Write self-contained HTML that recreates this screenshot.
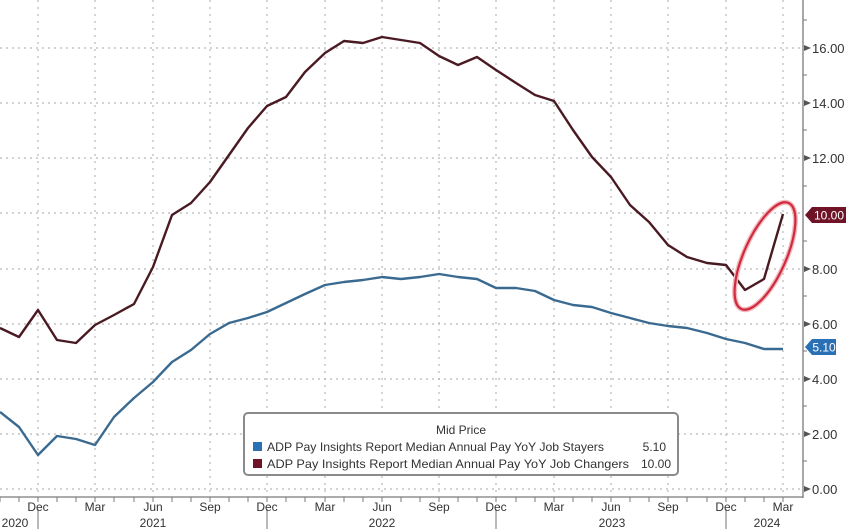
<!DOCTYPE html>
<html>
<head>
<meta charset="utf-8">
<style>
html,body{margin:0;padding:0;background:#fff;}
svg{display:block;}
text{font-family:"Liberation Sans","DejaVu Sans",sans-serif;}
</style>
</head>
<body>
<svg width="848" height="529" viewBox="0 0 848 529" xmlns="http://www.w3.org/2000/svg">
<rect width="848" height="529" fill="#ffffff"/>
<!-- horizontal gridlines -->
<g stroke="#b8b8b8" stroke-width="1.2" stroke-dasharray="2,4">
<line x1="0" y1="489" x2="803" y2="489"/>
<line x1="0" y1="434" x2="803" y2="434"/>
<line x1="0" y1="379" x2="803" y2="379"/>
<line x1="0" y1="324" x2="803" y2="324"/>
<line x1="0" y1="269" x2="803" y2="269"/>
<line x1="0" y1="213" x2="803" y2="213"/>
<line x1="0" y1="158" x2="803" y2="158"/>
<line x1="0" y1="103" x2="803" y2="103"/>
<line x1="0" y1="48" x2="803" y2="48"/>
</g>
<!-- vertical gridlines -->
<g stroke="#b8b8b8" stroke-width="1.2" stroke-dasharray="2,5">
<line x1="38" y1="0" x2="38" y2="497"/>
<line x1="95" y1="0" x2="95" y2="497"/>
<line x1="153" y1="0" x2="153" y2="497"/>
<line x1="210" y1="0" x2="210" y2="497"/>
<line x1="267" y1="0" x2="267" y2="497"/>
<line x1="325" y1="0" x2="325" y2="497"/>
<line x1="382" y1="0" x2="382" y2="497"/>
<line x1="439" y1="0" x2="439" y2="497"/>
<line x1="496" y1="0" x2="496" y2="497"/>
<line x1="554" y1="0" x2="554" y2="497"/>
<line x1="611" y1="0" x2="611" y2="497"/>
<line x1="668" y1="0" x2="668" y2="497"/>
<line x1="726" y1="0" x2="726" y2="497"/>
<line x1="783" y1="0" x2="783" y2="497"/>
</g>
<!-- axes -->
<line x1="803" y1="0" x2="803" y2="498" stroke="#7a7a7a" stroke-width="1.3"/>
<line x1="0" y1="497" x2="803" y2="497" stroke="#7a7a7a" stroke-width="1.3"/>
<!-- x minor ticks -->
<g stroke="#7a7a7a" stroke-width="1">
<line x1="0" y1="497" x2="0" y2="502"/><line x1="19" y1="497" x2="19" y2="502"/>
<line x1="38" y1="497" x2="38" y2="502"/><line x1="57" y1="497" x2="57" y2="502"/>
<line x1="76" y1="497" x2="76" y2="502"/><line x1="95" y1="497" x2="95" y2="502"/>
<line x1="114" y1="497" x2="114" y2="502"/><line x1="134" y1="497" x2="134" y2="502"/>
<line x1="153" y1="497" x2="153" y2="502"/><line x1="172" y1="497" x2="172" y2="502"/>
<line x1="191" y1="497" x2="191" y2="502"/><line x1="210" y1="497" x2="210" y2="502"/>
<line x1="229" y1="497" x2="229" y2="502"/><line x1="248" y1="497" x2="248" y2="502"/>
<line x1="267" y1="497" x2="267" y2="502"/><line x1="286" y1="497" x2="286" y2="502"/>
<line x1="305" y1="497" x2="305" y2="502"/><line x1="325" y1="497" x2="325" y2="502"/>
<line x1="344" y1="497" x2="344" y2="502"/><line x1="363" y1="497" x2="363" y2="502"/>
<line x1="382" y1="497" x2="382" y2="502"/><line x1="401" y1="497" x2="401" y2="502"/>
<line x1="420" y1="497" x2="420" y2="502"/><line x1="439" y1="497" x2="439" y2="502"/>
<line x1="458" y1="497" x2="458" y2="502"/><line x1="477" y1="497" x2="477" y2="502"/>
<line x1="496" y1="497" x2="496" y2="502"/><line x1="516" y1="497" x2="516" y2="502"/>
<line x1="535" y1="497" x2="535" y2="502"/><line x1="554" y1="497" x2="554" y2="502"/>
<line x1="573" y1="497" x2="573" y2="502"/><line x1="592" y1="497" x2="592" y2="502"/>
<line x1="611" y1="497" x2="611" y2="502"/><line x1="630" y1="497" x2="630" y2="502"/>
<line x1="649" y1="497" x2="649" y2="502"/><line x1="668" y1="497" x2="668" y2="502"/>
<line x1="687" y1="497" x2="687" y2="502"/><line x1="707" y1="497" x2="707" y2="502"/>
<line x1="726" y1="497" x2="726" y2="502"/><line x1="745" y1="497" x2="745" y2="502"/>
<line x1="764" y1="497" x2="764" y2="502"/><line x1="783" y1="497" x2="783" y2="502"/>
</g>
<!-- year separators -->
<g stroke="#8a8a8a" stroke-width="1.2">
<line x1="38" y1="509" x2="38" y2="529"/>
<line x1="267" y1="509" x2="267" y2="529"/>
<line x1="496" y1="509" x2="496" y2="529"/>
<line x1="726" y1="509" x2="726" y2="529"/>
</g>
<!-- right axis minor ticks -->
<g stroke="#7a7a7a" stroke-width="1">
<line x1="803" y1="461" x2="807" y2="461"/><line x1="803" y1="406" x2="807" y2="406"/>
<line x1="803" y1="351" x2="807" y2="351"/><line x1="803" y1="296" x2="807" y2="296"/>
<line x1="803" y1="241" x2="807" y2="241"/><line x1="803" y1="186" x2="807" y2="186"/>
<line x1="803" y1="130" x2="807" y2="130"/><line x1="803" y1="75" x2="807" y2="75"/>
<line x1="803" y1="20" x2="807" y2="20"/>
</g>
<!-- right axis major markers -->
<g fill="#555">
<polygon points="804,486 811,489 804,492"/>
<polygon points="804,431 811,434 804,437"/>
<polygon points="804,376 811,379 804,382"/>
<polygon points="804,321 811,324 804,327"/>
<polygon points="804,266 811,269 804,272"/>
<polygon points="804,155 811,158 804,161"/>
<polygon points="804,100 811,103 804,106"/>
<polygon points="804,45 811,48 804,51"/>
</g>
<g fill="#333" font-size="13">
<text x="812" y="494">0.00</text>
<text x="812" y="439">2.00</text>
<text x="812" y="384">4.00</text>
<text x="812" y="329">6.00</text>
<text x="812" y="274">8.00</text>
<text x="812" y="163">12.00</text>
<text x="812" y="108">14.00</text>
<text x="812" y="53">16.00</text>
</g>
<!-- x labels -->
<g fill="#333" font-size="12" text-anchor="middle">
<text x="38" y="511">Dec</text><text x="95" y="511">Mar</text><text x="153" y="511">Jun</text><text x="210" y="511">Sep</text>
<text x="267" y="511">Dec</text><text x="325" y="511">Mar</text><text x="382" y="511">Jun</text><text x="439" y="511">Sep</text>
<text x="496" y="511">Dec</text><text x="554" y="511">Mar</text><text x="611" y="511">Jun</text><text x="668" y="511">Sep</text>
<text x="726" y="511">Dec</text><text x="783" y="511">Mar</text>
<text x="15" y="527">2020</text>
<text x="153" y="527">2021</text>
<text x="382" y="527">2022</text>
<text x="612" y="527">2023</text>
<text x="767" y="527">2024</text>
</g>
<!-- series: changers -->
<polyline fill="none" stroke="#4a1a22" stroke-width="2.4" stroke-linejoin="round" points="0,328 19,337 38,310 57,340 76,343 95,325 114,315 134,304 153,267 172,215 191,203 210,182 229,155 248,128 267,106 286,97 305,72 325,53 344,41 363,43 382,37 401,40 420,43 439,56 458,65 477,57 496,70 516,83 535,95 554,101 573,130 592,157 611,177 630,205 649,222 668,245 687,257 707,263 726,265 745,290 764,279 783,214"/>
<!-- series: stayers -->
<polyline fill="none" stroke="#3a6a90" stroke-width="2.4" stroke-linejoin="round" points="0,412 19,427 38,455 57,436 76,439 95,445 114,417 134,398 153,382 172,362 191,350 210,334 229,323 248,318 267,312 286,303 305,294 325,285 344,282 363,280 382,277 401,279 420,277 439,274 458,277 477,279 496,288 516,288 535,291 554,300 573,305 592,307 611,313 630,318 649,323 668,326 687,328 707,333 726,339 745,343 764,349 783,349"/>
<!-- red ellipse -->
<ellipse cx="765" cy="256" rx="58" ry="21" transform="rotate(-66 765 256)" fill="none" stroke="#f2b8bf" stroke-width="5"/>
<ellipse cx="765" cy="256" rx="58" ry="21" transform="rotate(-66 765 256)" fill="none" stroke="#d02a3c" stroke-width="2.2"/>
<!-- value tags -->
<polygon points="805,215 812,207 846,207 846,223 812,223" fill="#6e1426"/>
<text x="829" y="219.5" fill="#fff" font-size="12" text-anchor="middle">10.00</text>
<polygon points="805,347 812,339 836,339 836,355 812,355" fill="#2b70b5"/>
<text x="824" y="351.5" fill="#fff" font-size="12" text-anchor="middle">5.10</text>
<!-- legend -->
<rect x="244" y="413" width="434" height="62" rx="4" ry="4" fill="#fff" stroke="#8a8a8a" stroke-width="2"/>
<text x="461" y="434" fill="#333" font-size="12" text-anchor="middle">Mid Price</text>
<rect x="253" y="442" width="9" height="9" fill="#2b70b5"/>
<rect x="253" y="459" width="9" height="9" fill="#6e1426"/>
<g fill="#333" font-size="12">
<text x="267" y="451" textLength="337" lengthAdjust="spacingAndGlyphs">ADP Pay Insights Report Median Annual Pay YoY Job Stayers</text>
<text x="666" y="451" text-anchor="end">5.10</text>
<text x="267" y="468" textLength="362" lengthAdjust="spacingAndGlyphs">ADP Pay Insights Report Median Annual Pay YoY Job Changers</text>
<text x="671" y="468" text-anchor="end">10.00</text>
</g>
</svg>
</body>
</html>
